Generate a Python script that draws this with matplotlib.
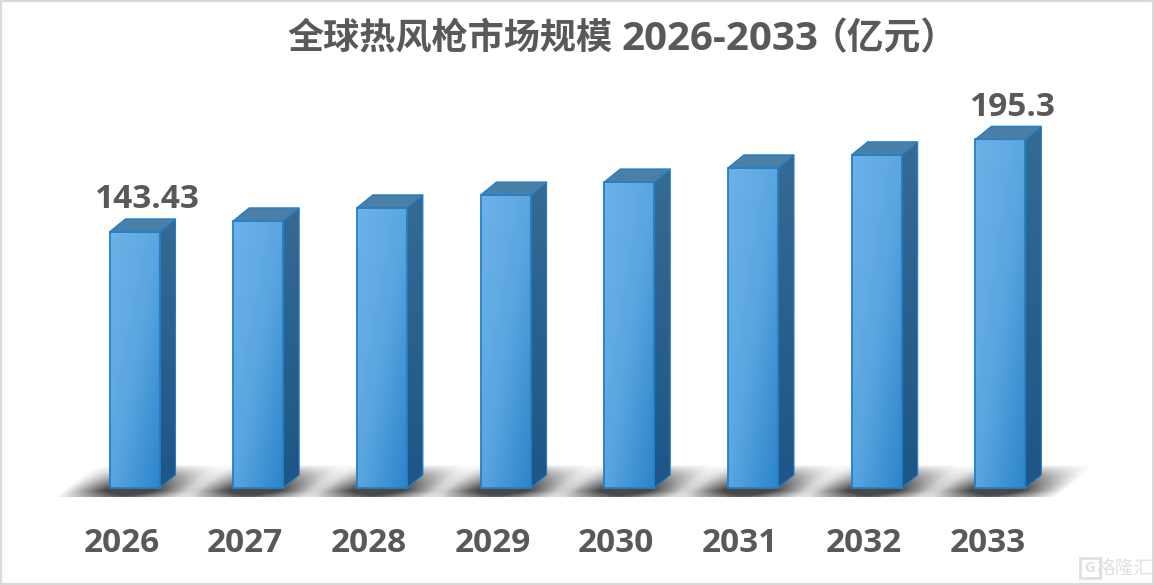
import numpy as np
import matplotlib
matplotlib.use("Agg")
import matplotlib.pyplot as plt
from matplotlib.colors import LinearSegmentedColormap
from matplotlib.patches import Polygon, Rectangle
from matplotlib.transforms import Affine2D

years = ["2026", "2027", "2028", "2029", "2030", "2031", "2032", "2033"]
values = [143.43, 149.6, 156.9, 164.1, 171.4, 179.3, 186.6, 195.3]
shown_labels = {0: "143.43", 7: "195.3"}
title_parts = ["全球热风枪市场规模", "2026-2033", "（亿元）"]

plt.rcParams["font.family"] = ["Open Sans", "Noto Sans CJK SC", "DejaVu Sans"]
TEXT = "#595959"

W, H = 1154, 585
BASE_PX = 488
PX_PER_VAL = 1.785
FIRST_PX = 134.5
STEP_PX = 123.7

fig = plt.figure(figsize=(W / 100, H / 100), dpi=100)
ax = fig.add_axes([0, 0, 1, 1])
ax.axis("off")

# pixel sizes turned into data units
sx = 1 / STEP_PX
sy = 1 / PX_PER_VAL
bar_w = 50 * sx
dx = 16 * sx
dy = 13 * sy

front_cmap = LinearSegmentedColormap.from_list("front", ["#6DB2E8", "#5BA6E0", "#2C85CB"])
side_cmap = LinearSegmentedColormap.from_list("side", ["#356A93", "#1D5687"])


def set_limits():
    ax.set_xlim(-FIRST_PX / STEP_PX, (W - FIRST_PX) / STEP_PX)
    ax.set_ylim(-(H - BASE_PX) / PX_PER_VAL, BASE_PX / PX_PER_VAL)


def draw_shadow(i):
    # soft shadow on the floor: an image sheared to the right with height
    u = np.linspace(-1, 1, 200)
    v = np.linspace(0, 1, 40)
    U, V = np.meshgrid(u, v)
    across = np.clip(1 - np.abs(U) ** 1.4, 0, 1) ** 1.1
    up = np.clip(1.05 - V ** 1.5, 0, 1) * np.clip(0.6 + V * 2.0, 0, 1)
    a = across * up
    rgba = np.zeros(a.shape + (4,))
    rgba[..., :3] = 0.2
    rgba[..., 3] = np.clip(a * 1.3, 0, 0.9)
    x_mid = i + 8 * sx
    im = ax.imshow(rgba, origin="lower", extent=(x_mid - 68 * sx, x_mid + 68 * sx, -9 * sy, 23 * sy),
                   aspect="auto", zorder=1, interpolation="bilinear")
    # shear about the middle of the shadow band, 40 px over its 32 px height
    shear = (40 * sx) / (32 * sy)
    im.set_transform(Affine2D().translate(-x_mid, -7 * sy)
                     + Affine2D.from_values(1, 0, shear, 1, x_mid, 7 * sy) + ax.transData)
    im.set_clip_on(False)


def draw_bar(i, val):
    x0 = i - bar_w / 2
    x1 = i + bar_w / 2

    # front face with a diagonal gradient
    grad = np.add.outer(np.linspace(0, 1, 64), np.linspace(0, 1, 64)) / 2
    im = ax.imshow(grad, cmap=front_cmap, extent=(x0, x1, 0, val), origin="upper",
                   aspect="auto", zorder=3, vmin=0, vmax=1)
    im.set_clip_path(Rectangle((x0, 0), x1 - x0, val, transform=ax.transData))
    ax.add_patch(Rectangle((x0, 0), x1 - x0, val, fill=False, ec="#2480C6", lw=1.3, zorder=4))

    # right side
    side_pts = [(x1, 0), (x1 + dx, dy), (x1 + dx, val + dy), (x1, val)]
    side = Polygon(side_pts, fc="none", ec="#2480C6", lw=0.8, zorder=4)
    ax.add_patch(side)
    im2 = ax.imshow(np.linspace(0, 1, 64).reshape(-1, 1), cmap=side_cmap,
                    extent=(x1, x1 + dx, 0, val + dy), origin="upper", aspect="auto", zorder=3)
    im2.set_clip_path(side)

    # top cap
    ax.add_patch(Polygon([(x0, val), (x1, val), (x1 + dx, val + dy), (x0 + dx, val + dy)],
                         fc="#4A7FA8", ec="#2480C6", lw=1.0, zorder=5))


for i in range(len(years)):
    draw_shadow(i)
for i, val in enumerate(values):
    draw_bar(i, val)
set_limits()

for i, year in enumerate(years):
    ax.text(i - 13 * sx, -55 * sy, year, ha="center", va="center", fontsize=24,
            fontweight="bold", color=TEXT)

for i, label in shown_labels.items():
    ax.text(i + 12.5 * sx, values[i] + 32 * sy, label, ha="center", va="center",
            fontsize=24, fontweight="bold", color=TEXT)

fig.text(287 / W, 1 - 39 / H, title_parts[0], ha="left", va="center", fontsize=26,
         fontweight="bold", color=TEXT)
fig.text(720 / W, 1 - 39 / H, title_parts[1], ha="center", va="center", fontsize=29,
         fontweight="bold", color=TEXT)
fig.text(958 / W, 1 - 39 / H, title_parts[2], ha="right", va="center", fontsize=26.5,
         fontweight="bold", color=TEXT)

# outer frame
fig.add_artist(Rectangle((0, 0), 1, 1, transform=fig.transFigure, fill=False,
                         ec="#D9D9D9", lw=3))

# watermark
fig.text(1125 / W, 1 - 568 / H, "格隆汇", ha="center", va="center", fontsize=13.5,
         color="#E0E0E0", family=["Noto Sans CJK SC"])
fig.add_artist(Rectangle((1080 / W, 1 - 578 / H), 20 / W, 20 / H, transform=fig.transFigure,
                         fill=False, ec="#E0E0E0", lw=2))
fig.text(1090 / W, 1 - 568 / H, "G", ha="center", va="center", fontsize=11,
         color="#E0E0E0", fontweight="bold")

fig.savefig("out.png", dpi=100)
